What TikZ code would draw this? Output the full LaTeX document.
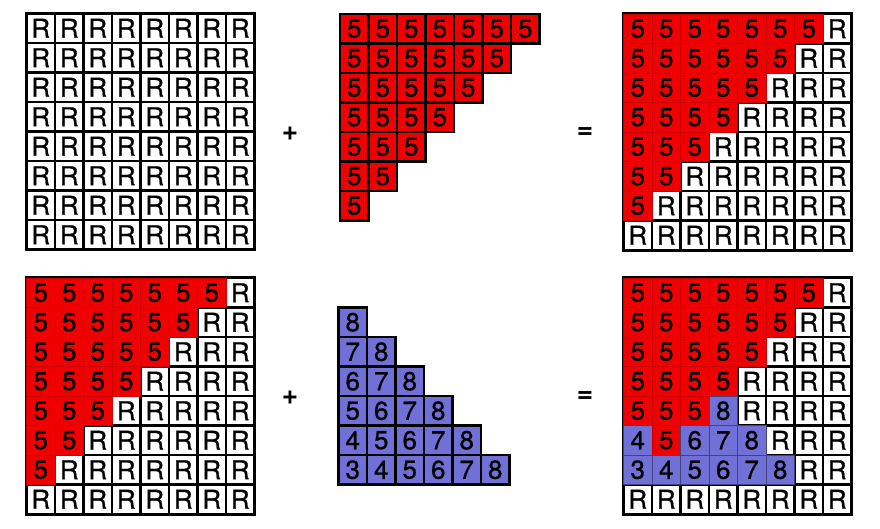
\documentclass[tikz,border=0pt]{standalone}
\usepackage{fontspec}
\setmainfont{TeX Gyre Heros}
\newfontfamily\cellfont[FakeBold=0.7]{TeX Gyre Heros}
\definecolor{cred}{RGB}{240,0,0}
\definecolor{cblue}{RGB}{112,112,214}
\tikzset{
  x=1pt, y=-1pt,
  cellbase/.style={inner sep=0pt, outer sep=0pt, anchor=center,
    font=\cellfont\fontsize{26}{26}\selectfont},
  cell/.style={cell#1},
  cellw/.style={cellbase, fill=white, minimum width=25.6pt, minimum height=26.6pt},
  cellr/.style={cellbase, fill=cred, draw=cred!85!black, line width=0.5pt,
    minimum width=28.5pt, minimum height=29.5pt},
  cellb/.style={cellbase, fill=cblue, draw=cblue!60!black, line width=0.6pt,
    minimum width=28.5pt, minimum height=29.5pt},
  tricell/.style={tri#1},
  trir/.style={cellbase, fill=cred, draw=black, line width=2.2pt,
    minimum width=28.5pt, minimum height=29.5pt},
  trib/.style={cellbase, fill=cblue, draw=black, line width=2.2pt,
    minimum width=28.5pt, minimum height=29.5pt},
  sign/.style={inner sep=0pt, font=\fontsize{28}{28}\selectfont\bfseries}
}
% name, x0, y0, rows
\newcommand\mygrid[4]{%
  \fill[black] (#2-1.6,#3-1.6) rectangle (#2+229.6,#3+237.6);
  \foreach \row [count=\i from 0] in {#4} {
    \foreach \k/\t [count=\j from 0] in \row {
      \node[cell/.expand once=\k] (#1-\i-\j) at ({#2+(\j+0.5)*28.5},{#3+(\i+0.5)*29.5}) {\t};
    }
  }
}
% name, x0, y0, row offset, rows
\newcommand\mytri[5]{%
  \foreach \row [count=\i from #4] in {#5} {
    \foreach \k/\t [count=\j from 0] in \row {
      \node[tricell/.expand once=\k] (#1-\i-\j) at ({#2+(\j+0.5)*28.5},{#3+(\i+0.5)*29.5}) {\t};
    }
  }
}
\begin{document}
\begin{tikzpicture}
\useasboundingbox (0,0) rectangle (880,528);
% top row
\mygrid{ga}{26.5}{13.5}{
 {w/R,w/R,w/R,w/R,w/R,w/R,w/R,w/R},
 {w/R,w/R,w/R,w/R,w/R,w/R,w/R,w/R},
 {w/R,w/R,w/R,w/R,w/R,w/R,w/R,w/R},
 {w/R,w/R,w/R,w/R,w/R,w/R,w/R,w/R},
 {w/R,w/R,w/R,w/R,w/R,w/R,w/R,w/R},
 {w/R,w/R,w/R,w/R,w/R,w/R,w/R,w/R},
 {w/R,w/R,w/R,w/R,w/R,w/R,w/R,w/R},
 {w/R,w/R,w/R,w/R,w/R,w/R,w/R,w/R}}
\mytri{gb}{340}{14}{0}{
 {r/5,r/5,r/5,r/5,r/5,r/5,r/5},
 {r/5,r/5,r/5,r/5,r/5,r/5},
 {r/5,r/5,r/5,r/5,r/5},
 {r/5,r/5,r/5,r/5},
 {r/5,r/5,r/5},
 {r/5,r/5},
 {r/5}}
\mygrid{gc}{623.5}{14}{
 {r/5,r/5,r/5,r/5,r/5,r/5,r/5,w/R},
 {r/5,r/5,r/5,r/5,r/5,r/5,w/R,w/R},
 {r/5,r/5,r/5,r/5,r/5,w/R,w/R,w/R},
 {r/5,r/5,r/5,r/5,w/R,w/R,w/R,w/R},
 {r/5,r/5,r/5,w/R,w/R,w/R,w/R,w/R},
 {r/5,r/5,w/R,w/R,w/R,w/R,w/R,w/R},
 {r/5,w/R,w/R,w/R,w/R,w/R,w/R,w/R},
 {w/R,w/R,w/R,w/R,w/R,w/R,w/R,w/R}}
\node[sign] (plusa) at (290,134) {+};
\node[sign] (eqa) at (585,133) {=};
% bottom row
\mygrid{gd}{26.5}{278}{
 {r/5,r/5,r/5,r/5,r/5,r/5,r/5,w/R},
 {r/5,r/5,r/5,r/5,r/5,r/5,w/R,w/R},
 {r/5,r/5,r/5,r/5,r/5,w/R,w/R,w/R},
 {r/5,r/5,r/5,r/5,w/R,w/R,w/R,w/R},
 {r/5,r/5,r/5,w/R,w/R,w/R,w/R,w/R},
 {r/5,r/5,w/R,w/R,w/R,w/R,w/R,w/R},
 {r/5,w/R,w/R,w/R,w/R,w/R,w/R,w/R},
 {w/R,w/R,w/R,w/R,w/R,w/R,w/R,w/R}}
\mytri{ge}{338.5}{278}{1}{
 {b/8},
 {b/7,b/8},
 {b/6,b/7,b/8},
 {b/5,b/6,b/7,b/8},
 {b/4,b/5,b/6,b/7,b/8},
 {b/3,b/4,b/5,b/6,b/7,b/8}}
\mygrid{gf}{623.5}{278}{
 {r/5,r/5,r/5,r/5,r/5,r/5,r/5,w/R},
 {r/5,r/5,r/5,r/5,r/5,r/5,w/R,w/R},
 {r/5,r/5,r/5,r/5,r/5,w/R,w/R,w/R},
 {r/5,r/5,r/5,r/5,w/R,w/R,w/R,w/R},
 {r/5,r/5,r/5,b/8,w/R,w/R,w/R,w/R},
 {b/4,r/5,b/6,b/7,b/8,w/R,w/R,w/R},
 {b/3,b/4,b/5,b/6,b/7,b/8,w/R,w/R},
 {w/R,w/R,w/R,w/R,w/R,w/R,w/R,w/R}}
\node[sign] (plusb) at (290,398) {+};
\node[sign] (eqb) at (585,397) {=};
\end{tikzpicture}
\end{document}
